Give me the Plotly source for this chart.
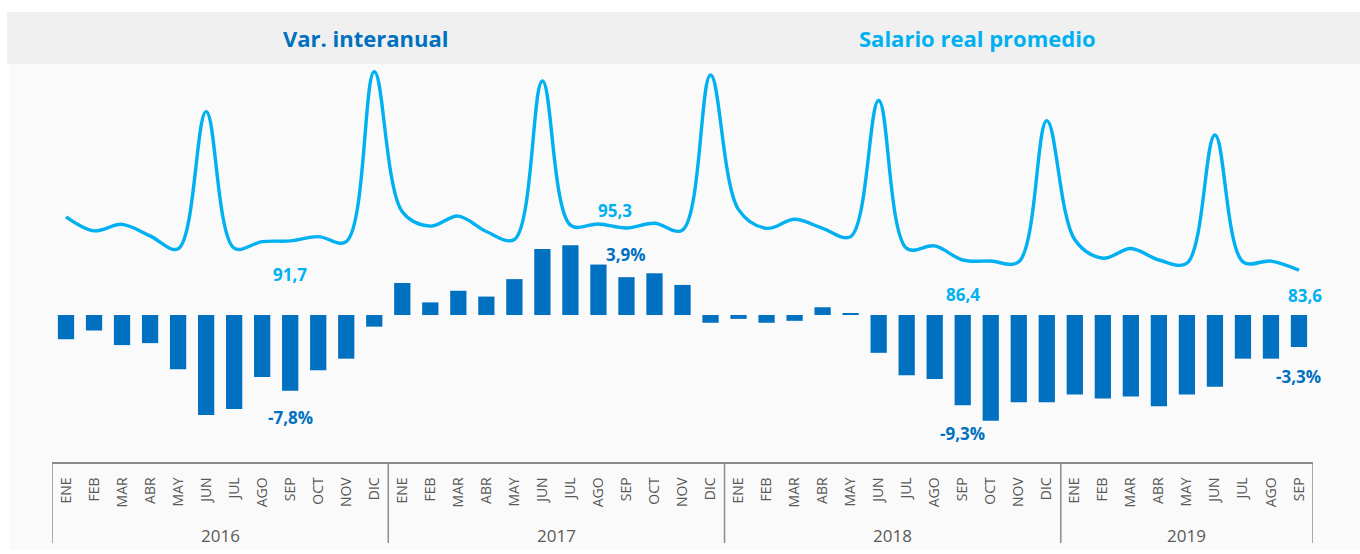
import plotly.graph_objects as go

# --- data -------------------------------------------------------------
MONTHS = ["ENE", "FEB", "MAR", "ABR", "MAY", "JUN", "JUL", "AGO", "SEP", "OCT", "NOV", "DIC"]
YEARS = ["2016", "2017", "2018", "2019"]
months_per_year = [12, 12, 12, 9]
month_labels = [m for n in months_per_year for m in MONTHS[:n]]

# year-on-year change of the average real wage (%)
var_interanual = [
    -2.5, -1.6, -3.1, -2.9, -5.6, -10.3, -9.7, -6.4, -7.8, -5.7, -4.5, -1.2,
    3.3, 1.3, 2.5, 1.9, 3.7, 6.8, 7.2, 5.2, 3.9, 4.3, 3.1, -0.8,
    -0.4, -0.8, -0.6, 0.8, 0.2, -3.9, -6.2, -6.6, -9.3, -10.9, -9.0, -9.0,
    -8.2, -8.6, -8.4, -9.4, -8.2, -7.4, -4.5, -4.5, -3.3,
]

# average real wage index
salario_real = [
    98.4, 94.5, 96.3, 93.1, 89.5, 127.6, 89.7, 91.5, 91.7, 92.9, 91.5, 138.7,
    99.8, 95.8, 98.6, 94.3, 92.1, 136.1, 96.1, 96.4, 95.3, 96.6, 94.7, 137.8,
    100.4, 95.2, 97.7, 95.2, 92.9, 130.7, 89.6, 90.3, 86.4, 86.1, 85.9, 125.1,
    92.0, 86.9, 89.6, 86.4, 85.5, 121.1, 85.9, 86.1, 83.6,
]

# months whose values are written on the chart (SEP of each year)
labelled = [8, 20, 32, 44]

# --- styling ----------------------------------------------------------
DARK_BLUE = "#0070C0"
LIGHT_BLUE = "#00B0F0"
GREY_TXT = "#595959"
AXIS_GREY = "#8C8C8C"
FONT = "Open Sans"

# label offsets (px) for the written values, in the same order as `labelled`
line_label_shift = [(0, -34), (-11, 17), (0, -35), (6, -25)]
bar_label_shift = [(0, -27), (0, 23), (0, -28), (0, -29)]

x = list(range(len(month_labels)))

fig = go.Figure()

fig.add_trace(go.Bar(
    x=x, y=var_interanual, width=0.58,
    marker=dict(color=DARK_BLUE, line=dict(width=0)),
    yaxis="y", name="Var. interanual", showlegend=False, hoverinfo="skip",
))

fig.add_trace(go.Scatter(
    x=x, y=salario_real, mode="lines",
    line=dict(color=LIGHT_BLUE, width=3.4, shape="spline", smoothing=1.0),
    yaxis="y2", name="Salario real promedio", showlegend=False, hoverinfo="skip",
))

annotations = []
for k, i in enumerate(labelled):
    v = salario_real[i]
    annotations.append(dict(
        x=i, y=v, xref="x", yref="y2", text=f"{v:.1f}".replace(".", ","),
        showarrow=False, xshift=line_label_shift[k][0], yshift=line_label_shift[k][1],
        xanchor="center", yanchor="middle",
        font=dict(family=FONT, size=17, color=LIGHT_BLUE, weight="bold"),
    ))
    b = var_interanual[i]
    annotations.append(dict(
        x=i, y=b, xref="x", yref="y", text=f"{b:.1f}%".replace(".", ","),
        showarrow=False, xshift=bar_label_shift[k][0], yshift=bar_label_shift[k][1],
        xanchor="center", yanchor="middle",
        font=dict(family=FONT, size=17, color=DARK_BLUE, weight="bold"),
    ))

# year labels centred under each group of months
start = 0
bounds = [-0.5]
for year, n in zip(YEARS, months_per_year):
    annotations.append(dict(
        x=start + (n - 1) / 2, y=-0.185, xref="x", yref="paper", text=year,
        showarrow=False, xanchor="center", yanchor="middle",
        font=dict(family=FONT, size=17, color=GREY_TXT),
    ))
    start += n
    bounds.append(start - 0.5)

# header titles
annotations.append(dict(
    x=0.249, y=1.0653, xref="paper", yref="paper", text="Var. interanual",
    showarrow=False, xanchor="center", yanchor="middle",
    font=dict(family=FONT, size=22, color=DARK_BLUE, weight="bold"),
))
annotations.append(dict(
    x=0.7343, y=1.0653, xref="paper", yref="paper", text="Salario real promedio",
    showarrow=False, xanchor="center", yanchor="middle",
    font=dict(family=FONT, size=22, color=LIGHT_BLUE, weight="bold"),
))

shapes = [
    # chart background
    dict(type="rect", xref="paper", yref="paper", x0=-0.0341, x1=1.04, y0=-0.221, y1=1.0,
         fillcolor="#FAFAFA", line=dict(width=0), layer="below"),
    # header band
    dict(type="rect", xref="paper", yref="paper", x0=-0.0357, x1=1.04, y0=1.0, y1=1.1307,
         fillcolor="#F0F0F0", line=dict(width=0), layer="below"),
]
# year dividers on the category axis
for b in bounds:
    shapes.append(dict(type="line", xref="x", yref="paper", x0=b, x1=b, y0=0, y1=-0.2035,
                       line=dict(color=AXIS_GREY, width=1.5)))

fig.update_layout(
    width=1360, height=554,
    margin=dict(l=52, r=47, t=64, b=92),
    paper_bgcolor="white", plot_bgcolor="rgba(0,0,0,0)",
    bargap=0.42,
    xaxis=dict(
        range=[-0.5, len(x) - 0.5], tickmode="array", tickvals=x, ticktext=month_labels,
        tickangle=-90, ticks="", showgrid=False, zeroline=False,
        showline=True, linecolor=AXIS_GREY, linewidth=1.5,
        tickfont=dict(family=FONT, size=14, color=GREY_TXT), ticklabelstandoff=8,
    ),
    yaxis=dict(range=[-15.155, 25.876], visible=False, showgrid=False, zeroline=False),
    yaxis2=dict(range=[30.29, 140.84], overlaying="y", visible=False,
                showgrid=False, zeroline=False),
    annotations=annotations,
    shapes=shapes,
)

fig.write_html("out.html")
